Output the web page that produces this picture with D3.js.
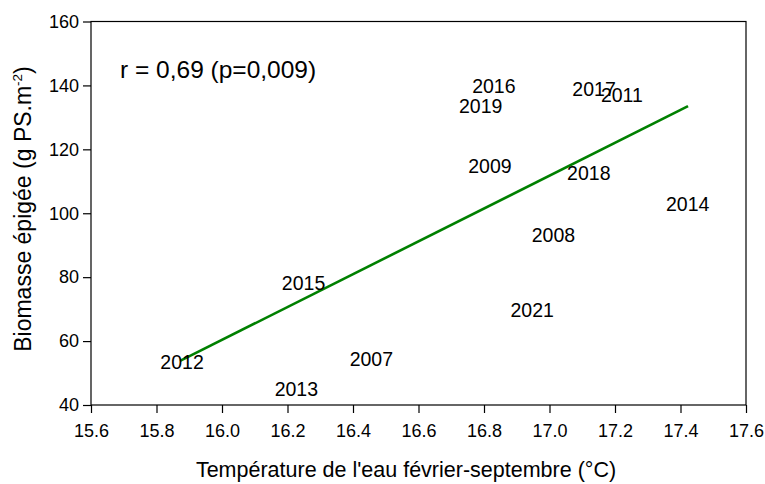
<!DOCTYPE html>
<html>
<head>
<meta charset="utf-8">
<script src="https://cdn.jsdelivr.net/npm/d3@7"></script>
<style>
  html, body { margin: 0; padding: 0; background: #fff; }
  svg { display: block; }
  text { font-family: "Liberation Sans", Arial, Helvetica, sans-serif; fill: #000; }
</style>
</head>
<body>
<svg id="chart" width="765" height="484"></svg>
<script>
// ---- data ----
const years = ["2016","2019","2017","2011","2009","2018","2014","2008","2021","2015","2012","2007","2013"];
const temperature = [16.83, 16.79, 17.136, 17.221, 16.818, 17.12, 17.422, 17.012, 16.947, 16.249, 15.878, 16.456, 16.227];
const biomass = [139.7, 133.6, 138.8, 137.0, 114.7, 112.65, 102.8, 93.2, 69.7, 78.3, 53.4, 54.5, 44.9];
const fitX = [15.872, 17.423];
const fitY = [53.8, 133.5];
const xTicks = [15.6, 15.8, 16.0, 16.2, 16.4, 16.6, 16.8, 17.0, 17.2, 17.4, 17.6];
const yTicks = [40, 60, 80, 100, 120, 140, 160];
const statText = "r = 0,69 (p=0,009)";
const xTitle = "Température de l'eau février-septembre (°C)";

// ---- layout ----
const L = 91, R = 746, T = 21.5, B = 405;
const svg = d3.select("#chart");
const x = d3.scaleLinear().domain([15.6, 17.6]).range([L, R]);
const y = d3.scaleLinear().domain([40, 160]).range([B, T]);

// frame
svg.append("rect").attr("x", L).attr("y", T).attr("width", R - L).attr("height", B - T)
  .attr("fill", "none").attr("stroke", "#000").attr("stroke-width", 1.2);

// axes
const xAxis = svg.append("g").attr("transform", `translate(0,${B})`)
  .call(d3.axisBottom(x).tickValues(xTicks).tickFormat(d3.format(".1f")).tickSize(8).tickSizeOuter(0).tickPadding(11));
const yAxis = svg.append("g").attr("transform", `translate(${L},0)`)
  .call(d3.axisLeft(y).tickValues(yTicks).tickSize(8).tickSizeOuter(0).tickPadding(4));
[xAxis, yAxis].forEach(g => {
  g.select(".domain").remove();
  g.selectAll(".tick line").attr("stroke", "#000").attr("stroke-width", 1.2);
  g.selectAll(".tick text").attr("font-size", 18).attr("font-family", "Liberation Sans, Arial, sans-serif").attr("fill", "#000");
});

// regression line
const line = d3.line().x(d => x(d[0])).y(d => y(d[1]));
svg.append("path").datum(fitX.map((v, i) => [v, fitY[i]]))
  .attr("d", line).attr("fill", "none").attr("stroke", "#008000").attr("stroke-width", 2.6);

// year labels
svg.append("g").selectAll("text").data(years).join("text")
  .attr("x", (d, i) => x(temperature[i]))
  .attr("y", (d, i) => y(biomass[i]))
  .attr("text-anchor", "middle")
  .attr("dy", "0.36em")
  .attr("font-size", 19.5)
  .text(d => d);

// stat text
svg.append("text").attr("x", 120).attr("y", 77.5).attr("font-size", 24.5).text(statText);

// axis titles
svg.append("text").attr("x", 406).attr("y", 477).attr("text-anchor", "middle").attr("font-size", 21.5).text(xTitle);

const yt = svg.append("text").attr("transform", "translate(31,209) rotate(-90)")
  .attr("text-anchor", "middle").attr("font-size", 23);
yt.append("tspan").text("Biomasse épigée (g PS.m");
yt.append("tspan").attr("font-size", 13.5).attr("dy", -9.5).text("-2");
yt.append("tspan").attr("dy", 9.5).text(")");
</script>
</body>
</html>
